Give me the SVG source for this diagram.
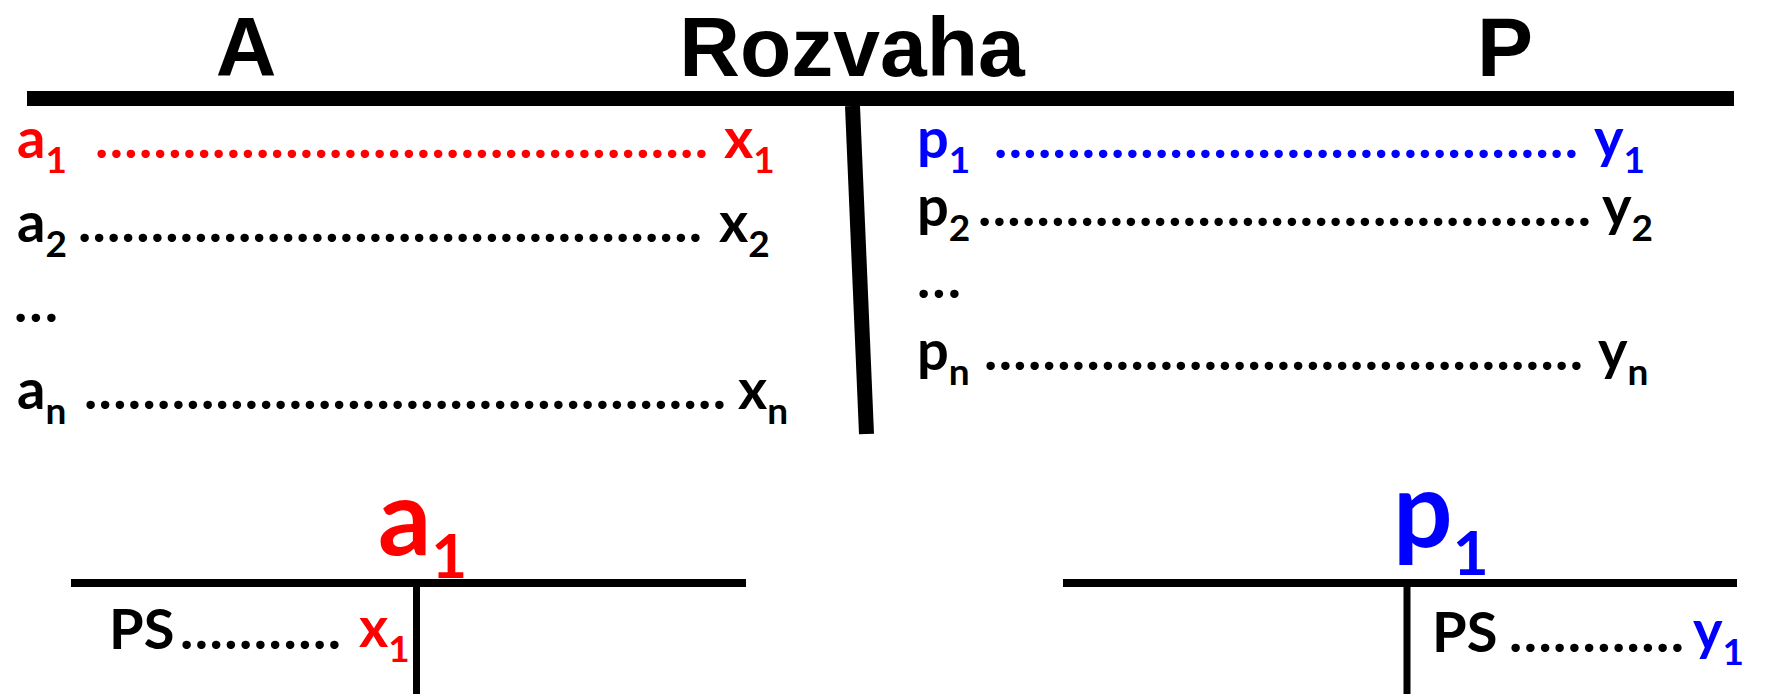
<svg xmlns="http://www.w3.org/2000/svg" width="1769" height="694" viewBox="0 0 1769 694">
<style>
.hd{font-family:"Liberation Sans",Arial,sans-serif;font-weight:bold;font-size:84px;fill:#000;text-anchor:middle}
.t{font-family:Lato,"Open Sans",sans-serif;font-weight:bold;font-size:56px;fill:#000}
.s{font-size:37px}
.r{fill:#FF0000}
.b{fill:#0000FF}
.big{font-size:105px}
.bs{font-size:62px}
.ln{stroke:#000;fill:none}
</style>
<rect width="1769" height="694" fill="#fff"/>
<g id="headers">
<text class="hd" x="246" y="76">A</text>
<text class="hd" x="852" y="76">Rozvaha</text>
<text class="hd" x="1505" y="76">P</text>
</g>
<g id="connectors">
<line class="ln" x1="27" y1="98.5" x2="1734" y2="98.5" stroke-width="15"/>
<line class="ln" x1="852.5" y1="106" x2="866.5" y2="434" stroke-width="15"/>
<line class="ln" x1="71" y1="583" x2="746" y2="583" stroke-width="8"/>
<line class="ln" x1="416.5" y1="583" x2="416.5" y2="694" stroke-width="7"/>
<line class="ln" x1="1063" y1="583" x2="1737" y2="583" stroke-width="8"/>
<line class="ln" x1="1407" y1="583" x2="1407" y2="694" stroke-width="7"/>
</g>
<g id="assets">
<text class="t r" x="17" y="158">a<tspan class="s" dy="15">1</tspan></text>
<text class="t r" x="95" y="158" textLength="613" lengthAdjust="spacing">..........................................</text>
<text class="t r" x="724" y="158">x<tspan class="s" dy="15">1</tspan></text>
<text class="t" x="17" y="242">a<tspan class="s" dy="15">2</tspan></text>
<text class="t" x="78" y="242" textLength="624" lengthAdjust="spacing">...........................................</text>
<text class="t" x="719" y="242">x<tspan class="s" dy="15">2</tspan></text>
<text class="t" x="14" y="322" textLength="44" lengthAdjust="spacing">...</text>
<text class="t" x="17" y="409">a<tspan class="s" dy="15">n</tspan></text>
<text class="t" x="84" y="409" textLength="642" lengthAdjust="spacing">............................................</text>
<text class="t" x="738" y="409">x<tspan class="s" dy="15">n</tspan></text>
</g>
<g id="liabilities">
<text class="t b" x="917" y="158">p<tspan class="s" dy="15">1</tspan></text>
<text class="t b" x="994" y="158" textLength="584" lengthAdjust="spacing">........................................</text>
<text class="t b" x="1594" y="158">y<tspan class="s" dy="15">1</tspan></text>
<text class="t" x="917" y="226">p<tspan class="s" dy="15">2</tspan></text>
<text class="t" x="978" y="226" textLength="613" lengthAdjust="spacing">..........................................</text>
<text class="t" x="1602" y="226">y<tspan class="s" dy="15">2</tspan></text>
<text class="t" x="917" y="298" textLength="44" lengthAdjust="spacing">...</text>
<text class="t" x="917" y="370">p<tspan class="s" dy="15">n</tspan></text>
<text class="t" x="984" y="370" textLength="599" lengthAdjust="spacing">.........................................</text>
<text class="t" x="1598" y="370">y<tspan class="s" dy="15">n</tspan></text>
</g>
<g id="account-a1">
<text class="t r big" x="378" y="555">a<tspan class="bs" dy="23">1</tspan></text>
<text class="t" x="109" y="649">PS</text>
<text class="t" x="180" y="649" textLength="161" lengthAdjust="spacing">...........</text>
<text class="t r" x="359" y="647">x<tspan class="s" dy="15">1</tspan></text>
</g>
<g id="account-p1">
<text class="t b big" x="1393" y="547">p<tspan class="bs" dy="28">1</tspan></text>
<text class="t" x="1432" y="652">PS</text>
<text class="t" x="1509" y="652" textLength="175" lengthAdjust="spacing">............</text>
<text class="t b" x="1693" y="650">y<tspan class="s" dy="15">1</tspan></text>
</g>
</svg>
